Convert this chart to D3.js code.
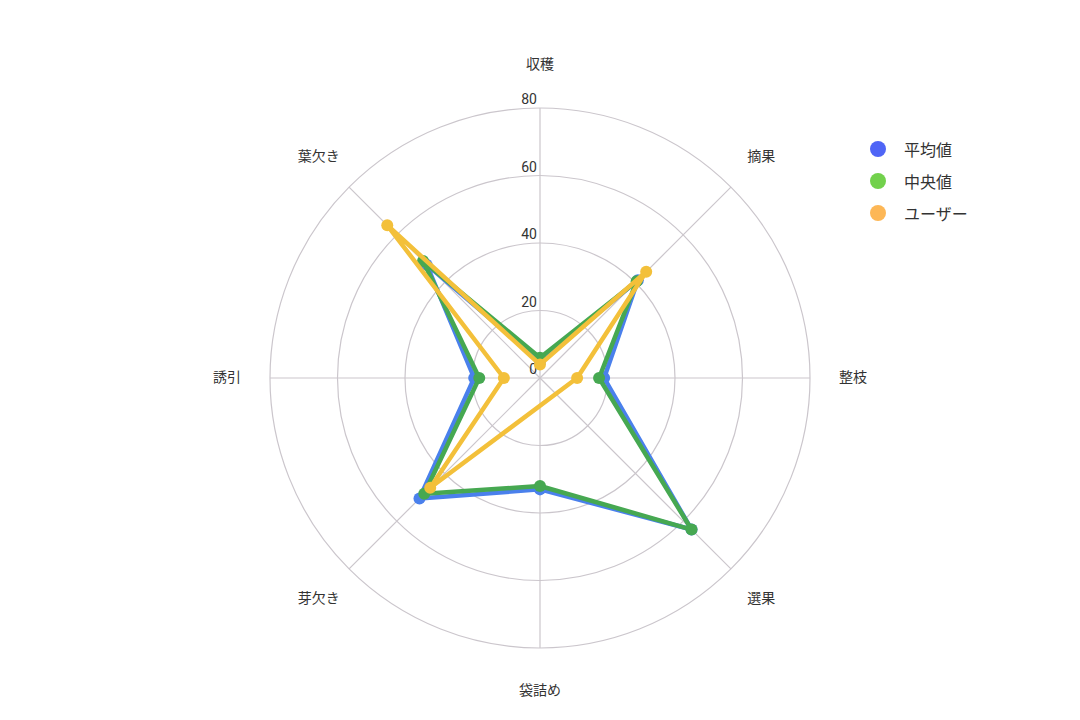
<!DOCTYPE html>
<html lang="ja">
<head>
  <meta charset="UTF-8">
  <title>作業レーダーチャート</title>
  <script src="https://d3js.org/d3.v7.min.js"></script>
  <style>
    body { margin: 0; background: #fff; }
    text { font-family: "Noto Sans CJK JP", "Noto Sans", sans-serif; fill: #333; }
    .tick-label { font-family: Roboto, "Noto Sans", sans-serif; }
  </style>
</head>
<body>
  <div id="chart"></div>
  <script>
    const categories = ['収穫', '摘果', '整枝', '選果', '袋詰め', '芽欠き', '誘引', '葉欠き'];
    const ticks = [0, 20, 40, 60, 80];
    const seriesNames = ['平均値', '中央値', 'ユーザー'];
    const avgValues = [5, 41, 19, 63.5, 33, 50.5, 19.5, 47.5];
    const medianValues = [6, 40.5, 17.5, 63.5, 32, 48.5, 18, 49];
    // ユーザーは選果・袋詰めが未入力
    const userValues = [4, 44.5, 11, null, null, 46, 10.7, 64];

    const lineColors = ['#4a80ec', '#46a851', '#f3c03a'];
    const legendColors = ['#4f65f6', '#72d14c', '#fdb756'];

    const width = 1080, height = 720;
    const cx = 540, cy = 378, R = 270;

    const svg = d3.select('#chart').append('svg')
      .attr('width', width)
      .attr('height', height);

    const g = svg.append('g').attr('transform', `translate(${cx},${cy})`);

    const r = d3.scaleLinear().domain([0, 80]).range([0, R]);
    const angle = d3.scalePoint().domain(categories).range([0, 2 * Math.PI * 7 / 8]);

    // rings
    g.selectAll('.ring')
      .data(ticks.filter(d => d > 0))
      .enter().append('circle')
      .attr('r', d => r(d))
      .attr('fill', 'none')
      .attr('stroke', '#cbc6cc')
      .attr('stroke-width', 1.2);

    // spokes
    g.selectAll('.spoke')
      .data(categories)
      .enter().append('line')
      .attr('x1', 0).attr('y1', 0)
      .attr('x2', d => r(80) * Math.sin(angle(d)))
      .attr('y2', d => -r(80) * Math.cos(angle(d)))
      .attr('stroke', '#cbc6cc')
      .attr('stroke-width', 1.2);

    // tick labels
    g.selectAll('.tick')
      .data(ticks)
      .enter().append('text')
      .attr('class', 'tick-label')
      .attr('x', -3)
      .attr('y', d => -r(d) - 4)
      .attr('text-anchor', 'end')
      .attr('font-size', 14)
      .text(d => d);

    // category labels
    g.selectAll('.cat')
      .data(categories)
      .enter().append('text')
      .attr('x', d => 313 * Math.sin(angle(d)))
      .attr('y', d => -313 * Math.cos(angle(d)) - 2)
      .attr('text-anchor', 'middle')
      .attr('dominant-baseline', 'central')
      .attr('font-size', 14)
      .text(d => d);

    const series = [avgValues, medianValues, userValues].map((vals, i) => ({
      name: seriesNames[i],
      color: lineColors[i],
      points: categories.map((c, j) => ({ cat: c, v: vals[j] })).filter(p => p.v != null)
    }));

    const line = d3.lineRadial()
      .angle(p => angle(p.cat))
      .radius(p => r(p.v))
      .curve(d3.curveLinearClosed);

    const sg = g.selectAll('.series')
      .data(series)
      .enter().append('g');

    sg.append('path')
      .attr('d', d => line(d.points))
      .attr('fill', 'none')
      .attr('stroke', d => d.color)
      .attr('stroke-width', 4.5)
      .attr('stroke-linejoin', 'round');

    sg.selectAll('circle')
      .data(d => d.points.map(p => ({ ...p, color: d.color })))
      .enter().append('circle')
      .attr('cx', p => r(p.v) * Math.sin(angle(p.cat)))
      .attr('cy', p => -r(p.v) * Math.cos(angle(p.cat)))
      .attr('r', 6)
      .attr('fill', p => p.color);

    // legend
    const legend = svg.append('g').attr('transform', 'translate(878,149)');
    const items = legend.selectAll('.item')
      .data(seriesNames)
      .enter().append('g')
      .attr('transform', (d, i) => `translate(0,${i * 32})`);
    items.append('circle')
      .attr('r', 8)
      .attr('fill', (d, i) => legendColors[i]);
    items.append('text')
      .attr('x', 26)
      .attr('dominant-baseline', 'central')
      .attr('font-size', 16)
      .text(d => d);
  </script>
</body>
</html>
